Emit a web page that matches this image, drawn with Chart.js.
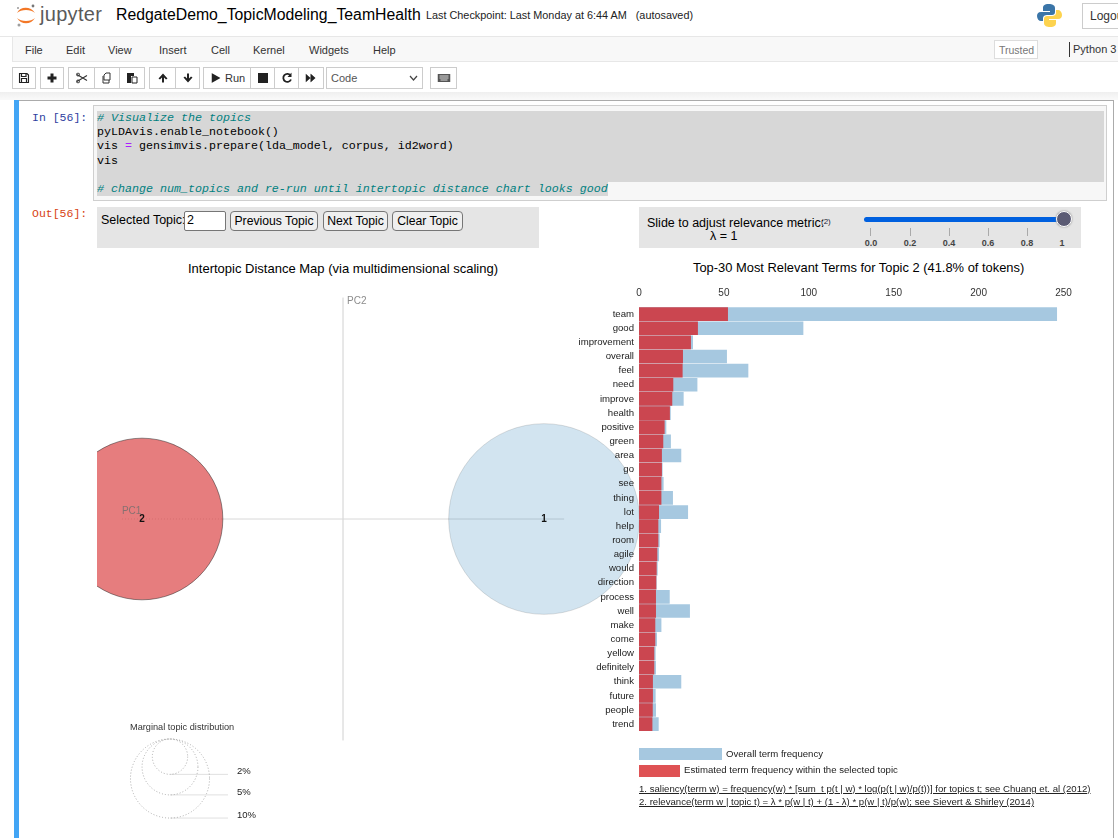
<!DOCTYPE html>
<html>
<head>
<meta charset="utf-8">
<title>RedgateDemo_TopicModeling_TeamHealth</title>
<script src="https://cdn.jsdelivr.net/npm/chart.js@4"></script>
<style>
html, body { margin: 0; padding: 0; width: 1118px; height: 838px; overflow: hidden; background: #fff; font-family: "Liberation Sans", Arial, sans-serif; color: #000; }
.abs, canvas { position: absolute; }
.t { position: absolute; white-space: pre; line-height: 1; }
.btn { position: absolute; top: 67px; height: 20px; border: 1px solid #ccc; background: #fff; box-sizing: content-box; }
.btn svg { position: absolute; left: 50%; top: 50%; transform: translate(-50%, -50%); }
.menu { position: absolute; top: 44px; font-size: 11px; color: #333; line-height: 13px; }
.code { position: absolute; left: 97px; font: 11.67px/14px "Liberation Mono", monospace; white-space: pre; }
.cm { color: #008080; font-style: italic; }
.topicbtn { position: absolute; top: 211px; height: 20px; box-sizing: border-box; border: 1px solid #767676; border-radius: 4px; background: #efefef; font: 12.2px/18px "Liberation Sans", sans-serif; text-align: center; }
.tick { position: absolute; top: 228px; width: 1px; height: 8px; background: #aaa; }
.ticktxt { position: absolute; top: 238px; font: bold 9px/10px "Liberation Sans", sans-serif; color: #444; transform: translateX(-50%); }
.note { position: absolute; left: 639px; font-size: 9.6px; line-height: 11px; white-space: pre; text-decoration: underline; color: #222; }
</style>
</head>
<body>

<!-- notebook header -->
<svg class="abs" style="left:15px;top:3px" width="22" height="25" viewBox="0 0 22 25">
  <path d="M2 10 C5 3 16 3 20 10 C16 6 6 6 2 10 Z" fill="#f37726"/>
  <path d="M2 15 C6 22 16 22 20 15 C16 19 6 19 2 15 Z" fill="#f37726"/>
  <circle cx="18" cy="3" r="1.4" fill="#767677"/><circle cx="3" cy="5" r="1" fill="#989798"/><circle cx="4" cy="22" r="1.5" fill="#9e9e9e"/>
</svg>
<div class="t" style="left:40px;top:4px;font-size:20px;color:#5a5a5a;letter-spacing:.3px">jupyter</div>
<div class="t" style="left:116px;top:7px;font-size:15.8px;color:#000">RedgateDemo_TopicModeling_TeamHealth</div>
<div class="t" style="left:426px;top:10px;font-size:10.85px;color:#222">Last Checkpoint: Last Monday at 6:44 AM   (autosaved)</div>
<svg class="abs" style="left:1037px;top:3px" width="25" height="25" viewBox="0 0 25 25">
  <path d="M12 1 C7 1 6 3 6 5 V8 H13 V9 H4 C1 9 0 11 0 13 C0 16 2 18 4 18 H6 V15 C6 13 8 12 10 12 H15 C17 12 18 11 18 9 V5 C18 2 15 1 12 1 Z" fill="#3a75a8"/>
  <path d="M13 24 C18 24 19 22 19 20 V17 H12 V16 H21 C24 16 25 14 25 12 C25 9 23 7 21 7 H19 V10 C19 12 17 13 15 13 H10 C8 13 7 14 7 16 V20 C7 23 10 24 13 24 Z" fill="#fdd34f"/>
</svg>
<div class="abs" style="left:1082px;top:3px;width:50px;height:26px;border:1px solid #ccc;box-sizing:border-box"></div>
<div class="t" style="left:1090px;top:10px;font-size:12px;color:#333">Logout</div>

<!-- menu bar -->
<div class="abs" style="left:0;top:36px;width:1118px;height:1px;background:#e7e7e7"></div>
<div class="abs" style="left:12px;top:37px;width:1106px;height:25px;background:#f8f8f8;border-left:1px solid #e7e7e7;border-bottom:1px solid #e7e7e7;box-sizing:border-box"></div>
<div class="menu" style="left:25px">File</div><div class="menu" style="left:66px">Edit</div>
<div class="menu" style="left:108px">View</div><div class="menu" style="left:159px">Insert</div>
<div class="menu" style="left:211px">Cell</div><div class="menu" style="left:253px">Kernel</div>
<div class="menu" style="left:309px">Widgets</div><div class="menu" style="left:373px">Help</div>
<div class="abs" style="left:994px;top:40px;width:44px;height:19px;border:1px solid #ddd;background:#fff;box-sizing:border-box"></div>
<div class="t" style="left:999px;top:45px;font-size:10.5px;color:#777">Trusted</div>
<div class="abs" style="left:1069px;top:42px;width:1px;height:15px;background:#333"></div>
<div class="t" style="left:1073px;top:44px;font-size:11px;color:#333">Python 3</div>

<!-- toolbar -->
<div class="btn" style="left:12px;width:22px"><svg width="11" height="11" viewBox="0 0 11 11"><path d="M1 1H8.500L10 2.500V10H1Z M3 1.500V4H7.500V1.500 M3 6H8V10H3Z" fill="none" stroke="#222" stroke-width="1.200"/></svg></div>
<div class="btn" style="left:40px;width:22px"><svg width="11" height="11" viewBox="0 0 11 11"><path d="M4 1H7V4H10V7H7V10H4V7H1V4H4Z" fill="#222"/></svg></div>
<div class="btn" style="left:68px;width:25px"><svg width="12" height="11" viewBox="0 0 12 11"><path d="M1 2L11 8M1 9L11 3" stroke="#333" stroke-width="1.100" fill="none"/><circle cx="2" cy="2" r="1.500" fill="none" stroke="#333"/><circle cx="2" cy="9" r="1.500" fill="none" stroke="#333"/></svg></div>
<div class="btn" style="left:94px;width:24px"><svg width="12" height="12" viewBox="0 0 12 12"><path d="M5 1H9V8H3V3Z M2 4V11H8V8" fill="none" stroke="#333"/></svg></div>
<div class="btn" style="left:119px;width:24px"><svg width="12" height="12" viewBox="0 0 12 12"><path d="M1 1H8V4H5V11H1Z" fill="#222"/><path d="M6 5H11V11H6Z" fill="none" stroke="#222"/></svg></div>
<div class="btn" style="left:149px;width:25px"><svg width="11" height="11" viewBox="0 0 11 11"><path d="M5.500 1L10 6L8.500 7L6.500 5V10H4.500V5L2.500 7L1 6Z" fill="#222"/></svg></div>
<div class="btn" style="left:175px;width:23px"><svg width="11" height="11" viewBox="0 0 11 11"><path d="M5.500 10L10 5L8.500 4L6.500 6V1H4.500V6L2.500 4L1 5Z" fill="#222"/></svg></div>
<div class="btn" style="left:203px;width:46px"><svg style="left:12px" width="9" height="10" viewBox="0 0 9 10"><path d="M0 0L9 5L0 10Z" fill="#222"/></svg></div>
<div class="t" style="left:225px;top:73px;font-size:11px;color:#333">Run</div>
<div class="btn" style="left:250px;width:23px"><svg width="10" height="10" viewBox="0 0 10 10"><path d="M0 0H10V10H0Z" fill="#222"/></svg></div>
<div class="btn" style="left:274px;width:23px"><svg width="11" height="11" viewBox="0 0 11 11"><path d="M9 3A4 4 0 1 0 9.500 7" fill="none" stroke="#222" stroke-width="1.800"/><path d="M10 0V4.500H6Z" fill="#222"/></svg></div>
<div class="btn" style="left:298px;width:24px"><svg width="11" height="9" viewBox="0 0 11 9"><path d="M0 0L5 4.500L0 9ZM5 0L10 4.500L5 9Z" fill="#222"/></svg></div>
<div class="abs" style="left:326px;top:67px;width:97px;height:22px;border:1px solid #ccc;box-sizing:border-box"></div>
<div class="t" style="left:331px;top:73px;font-size:11px;color:#555">Code</div>
<svg class="abs" style="left:409px;top:75px" width="9" height="6" viewBox="0 0 9 6"><path d="M1 1L4.500 5L8 1" fill="none" stroke="#444" stroke-width="1.200"/></svg>
<div class="btn" style="left:430px;width:25px"><svg width="13" height="8" viewBox="0 0 13 8"><path d="M0 0H13V8H0Z" fill="#555"/><path d="M2 2H11M2 4H11M3 6H10" stroke="#ddd"/></svg></div>
<div class="abs" style="left:0;top:92px;width:1118px;height:8px;background:linear-gradient(#efefef,#fafafa)"></div>

<!-- notebook cell -->
<div class="abs" style="left:14px;top:100px;width:1100px;height:760px;border:1px solid #ababab;box-sizing:border-box"></div>
<div class="abs" style="left:14px;top:100px;width:5px;height:738px;background:#42a5f5"></div>
<div class="t" style="left:32px;top:111px;font:11.5px/14px 'Liberation Mono',monospace;color:#303f9f">In [56]:</div>
<div class="t" style="left:32px;top:207px;font:11.5px/14px 'Liberation Mono',monospace;color:#d84315">Out[56]:</div>
<div class="abs" style="left:93px;top:105px;width:1014px;height:96px;background:#f7f7f7;border:1px solid #cfcfcf;box-sizing:border-box"></div>
<div class="abs" style="left:97px;top:111px;width:1007px;height:71px;background:#d7d7d7"></div>
<div class="abs" style="left:97px;top:182px;width:511px;height:14px;background:#d7d7d7"></div>
<div class="code" style="top:111px"><span class="cm"># Visualize the topics</span></div>
<div class="code" style="top:125px">pyLDAvis.enable_notebook()</div>
<div class="code" style="top:139px">vis <span style="color:#a2f">=</span> gensimvis.prepare(lda_model, corpus, id2word)</div>
<div class="code" style="top:154px">vis</div>
<div class="code" style="top:182px"><span class="cm"># change num_topics and re-run until intertopic distance chart looks good</span></div>

<!-- pyLDAvis controls -->
<div class="abs" style="left:97px;top:207px;width:442px;height:41px;background:#e5e5e5"></div>
<div class="t" style="left:101px;top:214px;font-size:12.5px">Selected Topic:</div>
<div class="abs" style="left:184px;top:211px;width:42px;height:20px;background:#fff;border:1px solid #767676;border-radius:2px;box-sizing:border-box"></div>
<div class="t" style="left:187px;top:214px;font-size:12.5px">2</div>
<div class="topicbtn" style="left:230px;width:88px">Previous Topic</div>
<div class="topicbtn" style="left:323px;width:65px">Next Topic</div>
<div class="topicbtn" style="left:392px;width:71px">Clear Topic</div>

<div class="abs" style="left:639px;top:207px;width:442px;height:41px;background:#e5e5e5"></div>
<div class="t" style="left:647px;top:217px;font-size:12.5px">Slide to adjust relevance metric:</div>
<div class="t" style="left:821px;top:218px;font-size:8px;color:#223">(2)</div>
<div class="t" style="left:710px;top:230px;font-size:12.5px">λ = 1</div>
<div class="abs" style="left:864px;top:217px;width:200px;height:5px;background:#0060df;border-radius:3px"></div>
<div class="abs" style="left:1056px;top:211px;width:16px;height:16px;border-radius:50%;background:#5b5b74;border:1px solid #fff;box-shadow:0 0 2px #888;box-sizing:border-box"></div>
<div class="tick" style="left:870px"></div><div class="tick" style="left:910px"></div><div class="tick" style="left:949px"></div><div class="tick" style="left:988px"></div><div class="tick" style="left:1027px"></div>
<div class="ticktxt" style="left:871px">0.0</div><div class="ticktxt" style="left:910px">0.2</div><div class="ticktxt" style="left:949px">0.4</div><div class="ticktxt" style="left:988px">0.6</div><div class="ticktxt" style="left:1027px">0.8</div><div class="ticktxt" style="left:1062px">1</div>

<!-- panel titles -->
<div class="t" style="left:188px;top:262px;font-size:13px">Intertopic Distance Map (via multidimensional scaling)</div>
<div class="t" style="left:693px;top:262px;font-size:12.9px">Top-30 Most Relevant Terms for Topic 2 (41.8% of tokens)</div>

<canvas id="mds" style="left:97px;top:290px" width="543" height="458"></canvas>
<canvas id="bars" style="left:560px;top:285px" width="530" height="457"></canvas>
<canvas id="marginal" style="left:100px;top:735px" width="170" height="95"></canvas>

<div class="t" style="left:130px;top:723px;font-size:9.2px;color:#333">Marginal topic distribution</div>

<!-- bar legend -->
<div class="abs" style="left:639px;top:748px;width:83px;height:12px;background:#a6c8e0"></div>
<div class="abs" style="left:639px;top:765px;width:41px;height:12px;background:#df5254"></div>
<div class="t" style="left:726px;top:749px;font-size:9.6px;color:#222">Overall term frequency</div>
<div class="t" style="left:684px;top:765px;font-size:9.6px;color:#222">Estimated term frequency within the selected topic</div>
<div class="note" style="top:783px">1. saliency(term w) = frequency(w) * [sum_t p(t | w) * log(p(t | w)/p(t))] for topics t; see Chuang et. al (2012)</div>
<div class="note" style="top:796px">2. relevance(term w | topic t) = λ * p(w | t) + (1 - λ) * p(w | t)/p(w); see Sievert &amp; Shirley (2014)</div>

<script>
/* pyLDAvis view: topic bubbles, marginal size legend, term bars */

// topics
var topicIds = ['1', '2'];
var topicX = [0.2, -0.2];
var topicY = [0, 0];
var topicShares = [58.2, 41.8];

// principal component axes (the PC1 break sits at the edge of the red bubble)
var pc1Span = [-0.22, -0.12, 0.22];
var pc2Span = [-0.2204, 0.2204];

// marginal legend
var sizeLevels = [2, 5, 10];

// term bars
var terms = ['team', 'good', 'improvement', 'overall', 'feel', 'need', 'improve', 'health', 'positive', 'green',
  'area', 'go', 'see', 'thing', 'lot', 'help', 'room', 'agile', 'would', 'direction',
  'process', 'well', 'make', 'come', 'yellow', 'definitely', 'think', 'future', 'people', 'trend'];
var overallFreq = [246, 96.6, 31.6, 51.6, 64.2, 34.2, 26.1, 18.5, 15.9, 18.6,
  24.7, 13.7, 14.3, 19.8, 28.7, 12.8, 12, 11.6, 10.8, 10.2,
  17.9, 29.8, 13, 10.4, 9.6, 9.8, 24.7, 9.6, 9.8, 11.4];
var topicFreq = [52.2, 34.5, 30.4, 25.7, 25.5, 20, 19.4, 18, 14.9, 14.1,
  13.3, 13.3, 13, 13, 11.6, 11.2, 11.2, 10.6, 10.2, 10,
  9.8, 9.8, 9.4, 9.4, 8.8, 8.8, 8, 8, 7.9, 7.7];
var barTicks = [0, 50, 100, 150, 200, 250];

var RADIUS_PER_ROOT_PCT = 12.5;
var FONT = "'Liberation Sans', sans-serif";

function shareRadius(pct) { return RADIUS_PER_ROOT_PCT * Math.sqrt(pct); }

Chart.defaults.font.family = FONT;
Chart.defaults.animation = false;

/* ---- intertopic distance map ---- */
var mdsLabels = {
  id: 'mdsLabels',
  afterDatasetsDraw: function(chart) {
    var ctx = chart.ctx, x = chart.scales.x, y = chart.scales.y;
    ctx.save();
    ctx.textBaseline = 'middle';
    ctx.font = '10px ' + FONT;
    ctx.fillStyle = 'rgba(110,110,110,0.8)';
    ctx.textAlign = 'left';
    ctx.fillText('PC1', x.getPixelForValue(pc1Span[0]), y.getPixelForValue(0) - 8);
    ctx.fillText('PC2', x.getPixelForValue(0) + 4, y.getPixelForValue(pc2Span[1]) + 4);
    ctx.font = 'bold 10px ' + FONT;
    ctx.fillStyle = '#111';
    ctx.textAlign = 'center';
    topicIds.forEach(function(id, i) {
      ctx.fillText(id, x.getPixelForValue(topicX[i]), y.getPixelForValue(topicY[i]));
    });
    ctx.restore();
  }
};

new Chart(document.getElementById('mds'), {
  type: 'scatter',
  data: {
    datasets: [
      {
        label: 'Topics',
        data: topicIds.map(function(id, i) { return { x: topicX[i], y: topicY[i] }; }),
        pointRadius: topicShares.map(shareRadius),
        pointHoverRadius: topicShares.map(shareRadius),
        backgroundColor: ['rgba(31,119,180,0.2)', 'rgba(214,39,40,0.6)'],
        borderColor: ['rgba(0,0,0,0.12)', 'rgba(40,40,40,0.5)'],
        borderWidth: 1
      },
      {
        label: 'PC1',
        data: pc1Span.map(function(v) { return { x: v, y: 0 }; }),
        showLine: true, pointRadius: 0, borderColor: '#d8d8d8', borderWidth: 1,
        segment: { borderDash: function(c) { return c.p1.parsed.x <= pc1Span[1] ? [1, 2] : undefined; } }
      },
      {
        label: 'PC2',
        data: pc2Span.map(function(v) { return { x: 0, y: v }; }),
        showLine: true, pointRadius: 0, borderColor: '#d0d0d0', borderWidth: 1
      }
    ]
  },
  options: {
    responsive: false,
    layout: { autoPadding: false },
    plugins: { legend: { display: false }, tooltip: { enabled: false } },
    scales: {
      x: { display: false, min: -0.2448, max: 0.2955 },
      y: { display: false, min: -0.2279, max: 0.2279 }
    }
  },
  plugins: [mdsLabels]
});

/* ---- marginal topic distribution ---- */
var marginalDraw = {
  id: 'marginalDraw',
  beforeDatasetDraw: function(chart, args) {
    if (args.index === 0) chart.ctx.setLineDash([1, 2]);
  },
  afterDatasetDraw: function(chart, args) {
    if (args.index === 0) chart.ctx.setLineDash([]);
  },
  afterDatasetsDraw: function(chart) {
    var ctx = chart.ctx, x = chart.scales.x, y = chart.scales.y;
    ctx.save();
    ctx.font = '9.5px ' + FONT;
    ctx.fillStyle = '#222';
    ctx.textBaseline = 'middle';
    sizeLevels.forEach(function(level) {
      ctx.fillText(level + '%', x.getPixelForValue(67), y.getPixelForValue(2 * shareRadius(level)) - 3);
    });
    ctx.restore();
  }
};

new Chart(document.getElementById('marginal'), {
  type: 'scatter',
  data: {
    datasets: [
      {
        label: 'Sizes',
        data: sizeLevels.map(function(level) { return { x: 0, y: shareRadius(level) }; }),
        pointRadius: sizeLevels.map(shareRadius),
        pointHoverRadius: sizeLevels.map(shareRadius),
        backgroundColor: 'rgba(0,0,0,0)',
        borderColor: '#aaa',
        borderWidth: 1
      }
    ].concat(sizeLevels.map(function(level) {
      var bottom = 2 * shareRadius(level);
      return {
        label: level + '%',
        data: [{ x: 0, y: bottom }, { x: 58, y: bottom }],
        showLine: true, pointRadius: 0, borderColor: '#e0e0e0', borderWidth: 1
      };
    }))
  },
  options: {
    responsive: false,
    layout: { autoPadding: false },
    plugins: { legend: { display: false }, tooltip: { enabled: false } },
    scales: {
      x: { display: false, min: -70, max: 100 },
      y: { display: false, min: -4, max: 91, reverse: true }
    }
  },
  plugins: [marginalDraw]
});

/* ---- top-30 term bars ---- */
new Chart(document.getElementById('bars'), {
  type: 'bar',
  data: {
    labels: terms,
    datasets: [
      { label: 'Estimated term frequency within the selected topic', data: topicFreq, backgroundColor: '#cb4650', order: 0, grouped: false, barThickness: 13 },
      { label: 'Overall term frequency', data: overallFreq, backgroundColor: '#a6c8e0', order: 1, grouped: false, barThickness: 13 }
    ]
  },
  options: {
    indexAxis: 'y',
    responsive: false,
    layout: { autoPadding: false, padding: { right: 26.5, left: 0, top: 0, bottom: 0 } },
    plugins: { legend: { display: false }, tooltip: { enabled: false } },
    scales: {
      x: {
        position: 'top', min: 0, max: 250,
        grid: { display: false, drawTicks: false }, border: { display: false },
        afterFit: function(axis) { axis.height = 22; },
        afterBuildTicks: function(axis) { axis.ticks = barTicks.map(function(v) { return { value: v }; }); },
        ticks: { color: '#333', font: { size: 10 }, padding: 8, maxRotation: 0 }
      },
      y: {
        grid: { display: false, drawTicks: false }, border: { display: false },
        afterFit: function(axis) { axis.width = 79; },
        ticks: { color: '#222', font: { size: 9.6 }, padding: 5, autoSkip: false, maxRotation: 0 }
      }
    }
  }
});
</script>
</body>
</html>
